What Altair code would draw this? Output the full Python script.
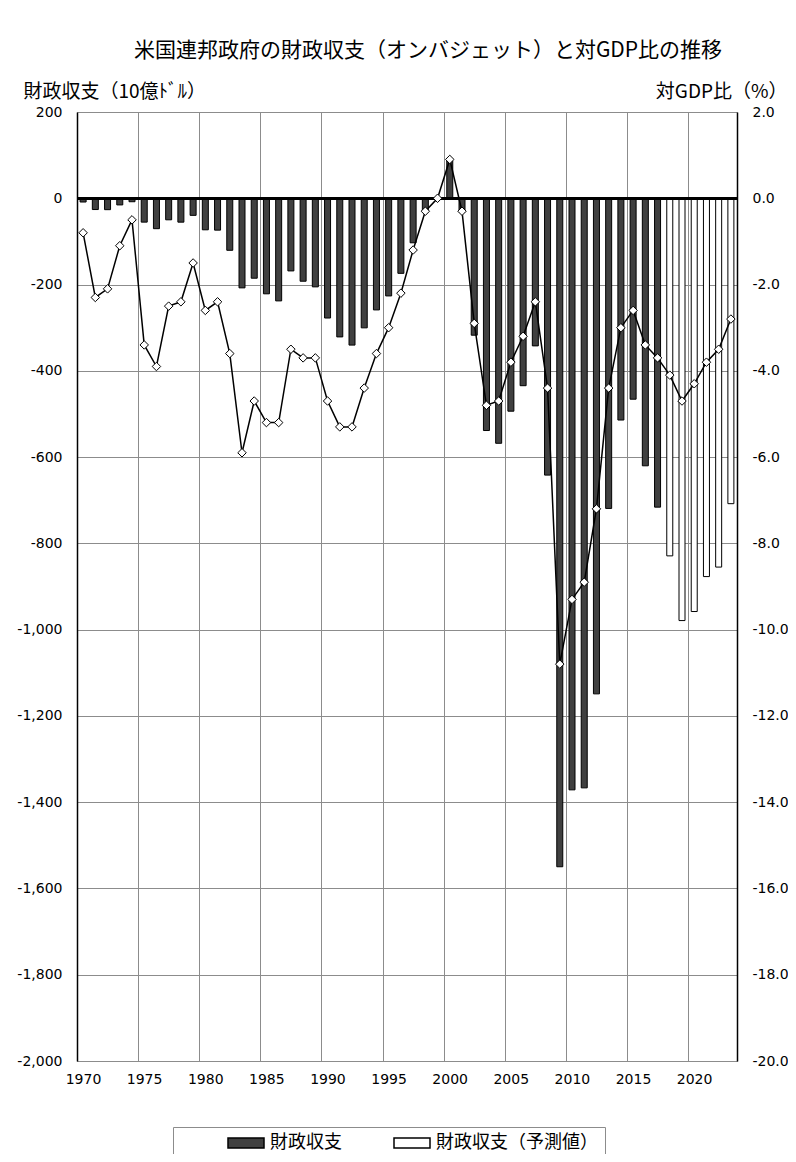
import altair as alt
import pandas as pd

# ---- data ----
actual_years = list(range(1970, 2018))
actual_balance = [
    -8.7, -26.1, -26.4, -15.4, -8.0, -55.3, -70.5, -49.9, -55.4, -39.6,
    -73.1, -73.9, -120.6, -207.7, -185.3, -221.5, -237.9, -168.4, -192.3, -205.4,
    -277.6, -321.4, -340.4, -300.4, -258.8, -226.4, -174.0, -103.2, -29.9, 1.9,
    86.4, -32.4, -317.4, -538.4, -568.0, -493.6, -434.5, -342.2, -641.8, -1549.7,
    -1371.4, -1366.8, -1148.9, -719.0, -514.1, -465.8, -620.2, -716.0,
]
forecast_years = list(range(2018, 2024))
forecast_balance = [-829, -979, -958, -877, -855, -708]

ratio_years = list(range(1970, 2024))
gdp_ratio = [
    -0.8, -2.3, -2.1, -1.1, -0.5, -3.4, -3.9, -2.5, -2.4, -1.5,
    -2.6, -2.4, -3.6, -5.9, -4.7, -5.2, -5.2, -3.5, -3.7, -3.7,
    -4.7, -5.3, -5.3, -4.4, -3.6, -3.0, -2.2, -1.2, -0.3, 0.0,
    0.9, -0.3, -2.9, -4.8, -4.7, -3.8, -3.2, -2.4, -4.4, -10.8,
    -9.3, -8.9, -7.2, -4.4, -3.0, -2.6, -3.4, -3.7, -4.1, -4.7,
    -4.3, -3.8, -3.5, -2.8,
]

series_names = ["財政収支", "財政収支（予測値）"]
x_tick_years = [1970, 1975, 1980, 1985, 1990, 1995, 2000, 2005, 2010, 2015, 2020]
left_ticks = list(range(-2000, 201, 200))
right_ticks = list(range(-20, 3, 2))

bars_df = pd.DataFrame({
    "year": actual_years + forecast_years,
    "balance": actual_balance + forecast_balance,
    "series": [series_names[0]] * len(actual_years) + [series_names[1]] * len(forecast_years),
})
ratio_df = pd.DataFrame({"year": ratio_years, "ratio": gdp_ratio})

JP = "Noto Sans CJK JP"
NUM = "DejaVu Sans"
MINUS = "\u2212"

x_enc = alt.X(
    "year:Q",
    scale=alt.Scale(domain=[ratio_years[0] - 0.5, ratio_years[-1] + 0.5],
                    nice=False, zero=False, padding=0),
    axis=alt.Axis(
        values=[y - 0.5 for y in x_tick_years],
        labelExpr="format(datum.value + 0.5, 'd')",
        labelOffset=6,
        labelFlush=False,
        labelOverlap=False,
        title=None,
        grid=True,
        gridColor="#8c8c8c",
        domainColor="#8c8c8c",
        ticks=False,
        labelPadding=11,
        labelFont=NUM,
        labelFontSize=14,
        labelColor="black",
    ),
)

bars = alt.Chart(bars_df).mark_bar(size=6, stroke="black", strokeWidth=1).encode(
    x=x_enc,
    y=alt.Y(
        "balance:Q",
        scale=alt.Scale(domain=[-2000, 200], nice=False),
        axis=alt.Axis(
            values=left_ticks,
            labelExpr=f"replace(format(datum.value, ',d'), '{MINUS}', '-')",
            title="財政収支（10億ﾄﾞﾙ）",
            titleAngle=0,
            titleAlign="left",
            titleBaseline="alphabetic",
            titleX=-54,
            titleY=-15,
            titleFont=JP,
            titleFontSize=19,
            titleFontWeight="normal",
            titleColor="black",
            grid=True,
            gridColor="#8c8c8c",
            domainColor="black",
            domainWidth=1.5,
            ticks=False,
            labelPadding=15,
            labelFont=NUM,
            labelFontSize=14,
            labelColor="black",
        ),
    ),
    fill=alt.Fill(
        "series:N",
        scale=alt.Scale(domain=series_names, range=["#404040", "#ffffff"]),
        legend=alt.Legend(
            title=None,
            orient="none",
            legendX=96,
            legendY=1015,
            direction="horizontal",
            strokeColor="#8c8c8c",
            padding=7,
            symbolType="M-3.6,-1H3.6V1H-3.6Z",
            symbolSize=100,
            symbolStrokeColor="black",
            symbolStrokeWidth=1.5,
            symbolOffset=57,
            labelOffset=15,
            columnPadding=4,
            labelFont=JP,
            labelFontSize=18,
            labelColor="black",
            labelLimit=300,
        ),
    ),
)

zero_rule = alt.Chart(bars_df).mark_rule(color="black", strokeWidth=2).encode(
    y=alt.datum(0)
)

line = alt.Chart(ratio_df).mark_line(
    color="black",
    strokeWidth=1.5,
    point=alt.OverlayMarkDef(shape="diamond", filled=True, fill="white", stroke="black",
                             strokeWidth=1, size=72),
).encode(
    x=x_enc,
    y=alt.Y(
        "ratio:Q",
        scale=alt.Scale(domain=[-20, 2], nice=False),
        axis=alt.Axis(
            orient="right",
            values=right_ticks,
            labelExpr=f"replace(format(datum.value, '.1f'), '{MINUS}', '-')",
            title="対GDP比（%）",
            titleAngle=0,
            titleAlign="right",
            titleBaseline="alphabetic",
            titleX=50,
            titleY=-15,
            titleFont=JP,
            titleFontSize=19,
            titleFontWeight="normal",
            titleColor="black",
            grid=False,
            domainColor="black",
            domainWidth=1.5,
            ticks=False,
            labelPadding=15,
            labelFont=NUM,
            labelFontSize=14,
            labelColor="black",
        ),
    ),
)

chart = alt.layer(
    alt.layer(bars, zero_rule),
    line,
).resolve_scale(y="independent").properties(
    width=660,
    height=949,
    autosize=alt.AutoSizeParams(type="none"),
    padding={"left": 69, "top": 104, "right": 51, "bottom": 93},
    title=alt.TitleParams(
        "米国連邦政府の財政収支（オンバジェット）と対GDP比の推移",
        font=JP,
        fontSize=21,
        fontWeight="normal",
        color="black",
        anchor="middle",
        dx=21,
        offset=21,
    ),
).configure_view(stroke="#8c8c8c").configure(background="white")

chart.save("out.html", embed_options={"renderer": "svg", "actions": False})
